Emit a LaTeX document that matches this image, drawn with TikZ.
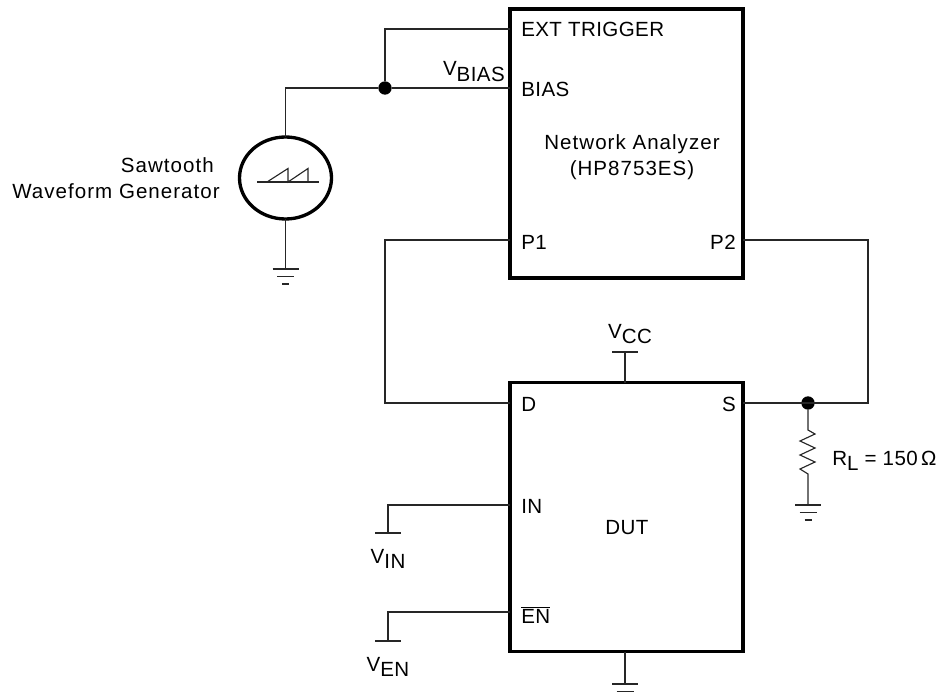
\documentclass[tikz,border=0pt]{standalone}
\usepackage{fontspec}
\setmainfont[LetterSpace=2]{Liberation Sans}
\newfontfamily\widefont[LetterSpace=5]{Liberation Sans}
\usetikzlibrary{positioning}
\usetikzlibrary{shapes.geometric}
\newcommand{\lowtext}[2]{#1\raisebox{-0.28em}{#2}}

\begin{document}
\begin{tikzpicture}[
			x=0.75pt, y=-0.75pt,
			wire/.style={line width=0.85pt, black!85},
			box/.style={draw, line width=2.5pt, rectangle, inner sep=0pt, outer sep=0pt, minimum width=174.75pt, minimum height=201.75pt},
			label/.style={inner sep=0pt, font=\fontsize{15.4pt}{18pt}\selectfont},
			widelabel/.style={inner sep=0pt, font=\fontsize{15.4pt}{18pt}\widefont},
			pinl/.style={label, anchor=base west},
			pinr/.style={label, anchor=base east},
			dot/.style={circle, fill=black, inner sep=0pt, minimum size=10pt},
			pics/gnd/.style={code={
				\draw[wire] (-13, 0) -- (13, 0);
				\draw[wire] (-8.5, 7.5) -- (8.5, 7.5);
				\draw[wire] (-3.5, 15) -- (3.5, 15);
			}},
		]
		\useasboundingbox (0, 0) rectangle (941, 698);

		% blocks
		\node[box] (analyzer) at (626.5, 143.5) {};
		\node[box] (dut) at (626.5, 517) {};
		\node[draw, ellipse, line width=2.5pt, inner sep=0pt, outer sep=0pt, minimum width=69pt, minimum height=61.5pt] (gen) at (285.5, 178) {};

		\node[dot] (biasdot) at (385, 88) {};
		\node[dot] (sdot) at (808, 403) {};

		% pin points
		\coordinate (ext) at (analyzer.west |- 0, 29);
		\coordinate (bias) at (analyzer.west |- biasdot);
		\coordinate (pone) at (analyzer.west |- 0, 240);
		\coordinate (ptwo) at (analyzer.east |- 0, 240);
		\coordinate (d) at (dut.west |- sdot);
		\coordinate (s) at (dut.east |- sdot);
		\coordinate (in) at (dut.west |- 0, 505);
		\coordinate (en) at (dut.west |- 0, 612);

		\coordinate (gengnd) at (285.5, 269);
		\coordinate (rtop) at (808, 430);
		\coordinate (rgnd) at (808, 505);
		\coordinate (vcc) at (625, 352);
		\coordinate (vin) at (388, 533);
		\coordinate (ven) at (388, 641);
		\coordinate (dutgnd) at (625, 684);

		% wires
		\draw[wire] (ext) -| (biasdot);
		\draw[wire] (bias) -- (biasdot) -| (gen.north);
		\draw[wire] (gen.south) -- (gengnd);
		\draw[wire] (pone) -- ++(-125, 0) |- (d);
		\draw[wire] (ptwo) -- ++(125, 0) |- (s);
		\draw[wire] (vcc) -- (vcc |- dut.north);
		\draw[wire] (in) -| (vin);
		\draw[wire] (en) -| (ven);
		\draw[wire] (dutgnd |- dut.south) -- (dutgnd);
		\draw[wire] (sdot) -- (rtop) -- ++(7, 4) -- ++(-15, 7) -- ++(15, 7) -- ++(-15, 7) -- ++(15, 7) -- ++(-15, 7) -- ++(8, 5) -- (rgnd);

		% sawtooth
		\draw[wire] (257, 182) -- (319, 182);
		\draw[wire] (267, 182) -- (288, 168.5) -- (288, 182) -- (308, 168.5) -- (308, 182);

		% grounds and rails
		\pic at (gengnd) {gnd};
		\pic at (rgnd) {gnd};
		\draw[wire] (dutgnd) ++(-13, 0) -- ++(26, 0);
		\draw[wire] (dutgnd) ++(-8.5, 7.5) -- ++(17, 0);
		\draw[wire] (vcc) ++(-13, 0) -- ++(26, 0);
		\draw[wire] (vin) ++(-13, 0) -- ++(26, 0);
		\draw[wire] (ven) ++(-13, 0) -- ++(26, 0);

		% labels
		\node[pinl] (extlabel) at (521, 37) {EXT TRIGGER};
		\node[pinl] (biaslabel) at (521, 96.5) {BIAS};
		\node[pinl] (ponelabel) at (521, 250) {P1};
		\node[pinr] (ptwolabel) at (736, 250) {P2};
		\node[pinl] (dlabel) at (521, 411) {D};
		\node[pinr] (slabel) at (736, 411) {S};
		\node[pinl] (inlabel) at (521, 513) {IN};
		\node[pinl] (enlabel) at (521, 623) {$\overline{\mbox{EN}}$};
		\node[widelabel, anchor=base] (analyzerlabel) at (632, 150) {Network Analyzer};
		\node[widelabel, anchor=base] (hplabel) at (632, 176) {(HP8753ES)};
		\node[label, anchor=base] (dutlabel) at (627, 534) {DUT};
		\node[widelabel, anchor=base east] (sawlabel) at (214, 173) {Sawtooth};
		\node[widelabel, anchor=base east] (wavelabel) at (220, 199) {Waveform Generator};
		\node[pinr] (vbiaslabel) at (505, 76) {\lowtext{V}{BIAS}};
		\node[label, anchor=base] (vcclabel) at (630, 338) {\lowtext{V}{CC}};
		\node[label, anchor=base] (vinlabel) at (388, 563) {\lowtext{V}{IN}};
		\node[label, anchor=base] (venlabel) at (388, 671) {\lowtext{V}{EN}};
		\node[pinl] (rlabel) at (832, 465) {\lowtext{R}{L} = 150\,Ω};
\end{tikzpicture}
\end{document}
